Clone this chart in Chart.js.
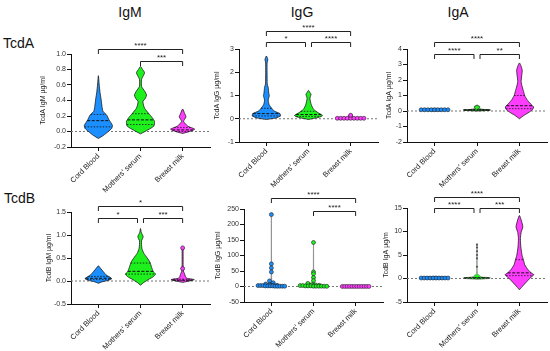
<!DOCTYPE html>
<html><head><meta charset="utf-8">
<script src="https://cdn.jsdelivr.net/npm/chart.js@4.4.0/dist/chart.umd.min.js"></script>
<style>
html,body{margin:0;padding:0;background:#fff}
body{width:550px;height:351px;position:relative;overflow:hidden;font-family:"Liberation Sans",Arial,sans-serif}
canvas{position:absolute}
.hd{position:absolute;font-size:14px;line-height:14px;color:#111;white-space:nowrap}
</style></head><body>
<div class="hd" style="left:130px;top:5px;transform:translateX(-50%)">IgM</div>
<div class="hd" style="left:302px;top:5px;transform:translateX(-50%)">IgG</div>
<div class="hd" style="left:458px;top:5px;transform:translateX(-50%)">IgA</div>
<div class="hd" style="left:3px;top:36px">TcdA</div>
<div class="hd" style="left:4px;top:191px">TcdB</div>
<script>
// ---------- DATA ----------
const categories = ["Cord Blood", "Mothers' serum", "Breast milk"];

// y tick labels per panel
const igmA_ticks = ["-0.2","0.0","0.2","0.4","0.6","0.8","1.0"];
const iggA_ticks = ["-1","0","1","2","3"];
const igaA_ticks = ["-2","-1","0","1","2","3","4"];
const igmB_ticks = ["-0.5","0.0","0.5","1.0","1.5"];
const iggB_ticks = ["-50","0","50","100","150","200","250"];
const igaB_ticks = ["-5","0","5","10","15"];

// violin density profiles: [value, relative half-width]
const igmA_cb = [[-0.09,0],[-0.05,0.36],[0,0.71],[0.04,0.95],[0.08,1],[0.15,0.76],[0.21,0.6],[0.26,0.33],[0.32,0.26],[0.42,0.19],[0.5,0.12],[0.6,0.06],[0.72,0]];
const igmA_ms = [[-0.03,0],[0.02,0.52],[0.07,0.95],[0.13,1],[0.18,0.83],[0.23,0.6],[0.3,0.29],[0.385,0.17],[0.43,0.35],[0.47,0.43],[0.52,0.3],[0.58,0.08],[0.67,0.07],[0.72,0.2],[0.76,0.29],[0.8,0.15],[0.84,0]];
const igmA_bm = [[-0.025,0],[0,0.5],[0.03,0.86],[0.07,0.36],[0.13,0.07],[0.16,0.15],[0.19,0.24],[0.23,0.15],[0.29,0]];

const iggA_cb = [[-0.03,0],[0.03,0.64],[0.12,1],[0.22,0.97],[0.33,0.56],[0.45,0.38],[0.6,0.2],[0.8,0.13],[0.92,0.18],[1.0,0.21],[1.1,0.17],[1.35,0.13],[1.5,0.06],[2.0,0.05],[2.4,0.05],[2.55,0.1],[2.7,0]];
const iggA_ms = [[-0.03,0],[0.06,0.73],[0.14,1],[0.26,0.68],[0.4,0.37],[0.6,0.2],[0.86,0.1],[0.95,0.13],[1.05,0.18],[1.13,0.1],[1.22,0]];
const iggA_bm = [[-0.03,0],[0,0.9],[0.02,1.0],[0.05,0.3],[0.1,0.08],[0.15,0.15],[0.19,0]];

const igaA_cb = [[0,0],[0.04,0.9],[0.08,1.0],[0.12,0.9],[0.17,0]];
const igaA_ms = [[0,0],[0.04,0.85],[0.07,0.95],[0.1,0.45],[0.15,0.12],[0.22,0.18],[0.28,0.2],[0.34,0.1],[0.38,0]];
const igaA_bm = [[-0.5,0],[-0.3,0.29],[-0.13,0.6],[0.09,0.93],[0.26,1],[0.47,0.78],[0.73,0.54],[1.0,0.37],[1.27,0.29],[1.55,0.2],[1.9,0.12],[2.34,0.17],[2.62,0.2],[2.88,0.12],[3.1,0]];

const igmB_cb = [[-0.05,0],[-0.02,0.24],[0.015,0.71],[0.05,0.95],[0.09,0.79],[0.12,0.6],[0.2,0.36],[0.28,0.14],[0.33,0]];
const igmB_ms = [[-0.09,0],[-0.03,0.24],[0.04,0.6],[0.09,0.9],[0.15,1.07],[0.21,0.9],[0.3,0.79],[0.41,0.67],[0.5,0.48],[0.6,0.24],[0.71,0.1],[0.87,0.07],[0.96,0.19],[1.06,0.05],[1.14,0]];
const igmB_bm = [[-0.03,0],[0,0.48],[0.03,0.83],[0.06,0.3],[0.1,0.2],[0.17,0.12],[0.22,0.05],[0.27,0.1],[0.32,0.04],[0.5,0.035],[0.68,0.04],[0.72,0.09],[0.75,0]];

const iggB_cb = [[-3,0],[0,0.55],[3,0.65],[6,0.35],[10,0.1],[16,0.03],[40,0.015],[80,0.01],[232,0]];
const iggB_ms = [[-3,0],[0,0.55],[3,0.65],[6,0.35],[10,0.1],[16,0.03],[40,0.015],[142,0]];
const iggB_bm = [[-2,0],[0,0.5],[0.5,0.55],[2,0]];

const igaB_cb = [[-0.2,0],[0,0.9],[0.1,1],[0.25,0.9],[0.45,0]];
const igaB_ms = [[-0.2,0],[0,0.85],[0.15,0.95],[0.3,0.4],[0.5,0.2],[0.7,0.18],[0.9,0.05],[1.5,0.01],[7.4,0]];
const igaB_bm = [[-2.4,0],[-1.4,0.29],[-0.4,0.6],[0.3,0.83],[0.8,1.02],[1.2,0.83],[1.9,0.6],[2.9,0.38],[3.9,0.29],[4.9,0.19],[6.7,0.1],[8.5,0.07],[9.8,0.12],[11,0.24],[12.5,0.12],[13.4,0]];

// quartiles [q1, median, q3] per category
const igmA_q = [[0.06,0.14,0.22],[0.09,0.15,0.23],[0.0,0.02,0.05]];
const iggA_q = [[0.12,0.22,0.45],[0.1,0.18,0.32],[0.0,0.01,0.03]];
const igaA_q = [[0.06,0.08,0.1],[0.05,0.07,0.1],[0.15,0.34,1.0]];
const igmB_q = [[0.03,0.06,0.1],[0.15,0.21,0.39],[0.01,0.02,0.04]];
const iggB_q = [[1,2,5],[1,2,4],[0.2,0.3,0.4]];
const igaB_q = [[0.05,0.1,0.15],[0.05,0.12,0.2],[0.6,1.2,4.0]];

// individual points shown
const iggA_bm_pts = [0.02,0.02,0.02,0.02,0.02,0.02,0.02,0.02,0.02,0.15];
const igaA_cb_pts = [0.08,0.08,0.08,0.08,0.08,0.08,0.08,0.08,0.08];
const igmB_bm_pts = [0.72,0.27];
const iggB_cb_pts = [232,73,60,47,18,12,8,5,4,4,3,3,3,2,2,2,2,1,1,1,1,1];
const iggB_ms_pts = [142,47,41,29,19,10,6,5,4,3,3,2,2,2,1,1,1,1,1,0.5];
const iggB_bm_pts = [0.3,0.3,0.3,0.3,0.3,0.3,0.3,0.3,0.3,0.3,0.3,0.3];
const igaB_cb_pts = [0.1,0.1,0.1,0.1,0.1,0.1,0.1,0.1,0.1,0.1];
const igaB_ms_pts = [7.2,6.6,5.8,5.0,4.3,2.5];

// significance brackets [from, to, level, label]
const igmA_br = [[0,2,1.065,"****"],[1,2,0.914,"***"]];
const iggA_br = [[0,2,3.78,"****"],[0,1,3.32,"*"],[1,2,3.32,"****"]];
const igaA_br = [[0,2,4.45,"****"],[0,1,3.68,"****"],[1,2,3.68,"**"]];
const igmB_br = [[0,2,1.62,"*"],[0,1,1.38,"*"],[1,2,1.38,"***"]];
const iggB_br = [[0,2,287,"****"],[1,2,245,"****"]];
const igaB_br = [[0,2,17.3,"****"],[0,1,15.0,"****"],[1,2,15.0,"***"]];

const panels = [
  {ticks: igmA_ticks, title: "TcdA IgM µg/ml", violins: [igmA_cb, igmA_ms, igmA_bm], quart: igmA_q, dots: [[],[],[]], brackets: igmA_br},
  {ticks: iggA_ticks, title: "TcdA IgG µg/ml", violins: [iggA_cb, iggA_ms, iggA_bm], quart: iggA_q, dots: [[],[],iggA_bm_pts], brackets: iggA_br},
  {ticks: igaA_ticks, title: "TcdA IgA µg/ml", violins: [igaA_cb, igaA_ms, igaA_bm], quart: igaA_q, dots: [igaA_cb_pts,[],[]], brackets: igaA_br},
  {ticks: igmB_ticks, title: "TcdB IgM µg/ml", violins: [igmB_cb, igmB_ms, igmB_bm], quart: igmB_q, dots: [[],[],igmB_bm_pts], brackets: igmB_br},
  {ticks: iggB_ticks, title: "TcdB IgG µg/ml", violins: [iggB_cb, iggB_ms, iggB_bm], quart: iggB_q, dots: [iggB_cb_pts,iggB_ms_pts,iggB_bm_pts], brackets: iggB_br},
  {ticks: igaB_ticks, title: "TcdB IgA µg/m", violins: [igaB_cb, igaB_ms, igaB_bm], quart: igaB_q, dots: [igaB_cb_pts,igaB_ms_pts,[]], brackets: igaB_br}
];

// ---------- LAYOUT / STYLE ----------
const layouts = [
  {ax:71,  top:54,  bottom:147, right:210, titleDist:28, outline:['#1a1a1a','#1a1a1a','#1a1a1a'], dotStyle:[null,null,null]},
  {ax:239, top:49,  bottom:142, right:378, titleDist:22, outline:['#1a1a1a','#1a1a1a','#1a1a1a'], dotStyle:[null,null,null]},
  {ax:407, top:49,  bottom:142, right:547, titleDist:18, outline:['#1a1a1a','#1a1a1a','#1a1a1a'], dotStyle:[null,null,null]},
  {ax:71,  top:212, bottom:304, right:210, titleDist:22, outline:['#1a1a1a','#1a1a1a','#1a1a1a'], dotStyle:[null,null,null]},
  {ax:244, top:209, bottom:302, right:383, titleDist:26, outline:['#8a8a8a','#8a8a8a','#8a8a8a'], dotStyle:[null,null,null]},
  {ax:407, top:208, bottom:302, right:547, titleDist:21, outline:['#1a1a1a','#8a8a8a','#1a1a1a'], dotStyle:[null,{r:1.1,c:'#555'},null]}
];
const COLORS = ['#1b8fff', '#1ef01e', '#ff3dff'];
const FONT = '"Liberation Sans", Arial, sans-serif';
const X_MIN = -0.65, X_MAX = 2.65;
const MAX_HALF = 0.333, DOT_STEP = 0.09;
const W = 40, PT = 32, PR = 4, XH = 56;

function violinPoly(d, c) {
  const right = d.map(([v, w]) => ({x: c + w * MAX_HALF, y: v}));
  const left = d.slice(0, -1).reverse().map(([v, w]) => ({x: c - w * MAX_HALF, y: v}));
  return right.concat(left);
}
function widthAt(d, v) {
  for (let k = 0; k < d.length - 1; k++) {
    const [v0, w0] = d[k], [v1, w1] = d[k + 1];
    if (v >= v0 && v <= v1) return w0 + (w1 - w0) * (v - v0) / ((v1 - v0) || 1);
  }
  return 0;
}
function swarm(vals, c, bin) {
  const groups = new Map();
  vals.forEach(v => { const k = Math.round(v / bin); if (!groups.has(k)) groups.set(k, []); groups.get(k).push(v); });
  const pts = [];
  groups.forEach(g => {
    const n = g.length;
    const sp = n > 1 ? Math.min(DOT_STEP, 2 * MAX_HALF * 0.95 / (n - 1)) : 0;
    g.forEach((v, k) => pts.push({x: c + (k - (n - 1) / 2) * sp, y: v}));
  });
  return pts;
}
function bracketPlugin(list) {
  return {
    id: 'brackets',
    afterDatasetsDraw(chart) {
      const {ctx} = chart, xs = chart.scales.x, ys = chart.scales.y;
      ctx.save();
      ctx.strokeStyle = '#222'; ctx.lineWidth = 1; ctx.fillStyle = '#222';
      ctx.font = '8px ' + FONT; ctx.textAlign = 'center'; ctx.textBaseline = 'alphabetic';
      list.forEach(br => {
        const [i, j, lvl, label] = br;
        const shared = k => list.some(o => o !== br && o[2] === lvl && (o[0] === k || o[1] === k));
        let x1 = xs.getPixelForValue(i), x2 = xs.getPixelForValue(j);
        if (shared(i)) x1 += 3;
        if (shared(j)) x2 -= 3;
        const yy = Math.round(ys.getPixelForValue(lvl)) + 0.5;
        ctx.beginPath();
        ctx.moveTo(x1, yy + 4.5); ctx.lineTo(x1, yy); ctx.lineTo(x2, yy); ctx.lineTo(x2, yy + 4.5);
        ctx.stroke();
        ctx.fillText(label, (x1 + x2) / 2, yy - 1.5);
      });
      ctx.restore();
    }
  };
}

panels.forEach((p, idx) => {
  const L = layouts[idx];
  const plotW = L.right - L.ax, plotH = L.bottom - L.top;
  const cv = document.createElement('canvas');
  cv.width = W + plotW + PR; cv.height = PT + plotH + XH;
  cv.style.left = (L.ax - W) + 'px'; cv.style.top = (L.top - PT) + 'px';
  cv.style.width = cv.width + 'px'; cv.style.height = cv.height + 'px';
  document.body.appendChild(cv);
  const tv = p.ticks.map(Number);
  const ymin = tv[0], ymax = tv[tv.length - 1];
  const ds = [];
  ds.push({data: [{x: X_MIN, y: 0}, {x: X_MAX, y: 0}], showLine: true, borderColor: '#777', borderWidth: 1, borderDash: [2, 2], pointRadius: 0, order: 10});
  p.violins.forEach((d, c) => {
    ds.push({data: violinPoly(d, c), showLine: true, fill: 'shape', backgroundColor: COLORS[c], borderColor: L.outline[c], borderWidth: 0.8, tension: 0.2, pointRadius: 0, order: 5});
    p.quart[c].forEach((q, qi) => {
      const w = widthAt(d, q) * MAX_HALF;
      ds.push({data: [{x: c - w, y: q}, {x: c + w, y: q}], showLine: true, borderColor: '#111', borderWidth: qi === 1 ? 1 : 0.8, borderDash: qi === 1 ? [3, 1.5] : [1.5, 1.5], pointRadius: 0, order: 3});
    });
    if (p.dots[c].length) {
      const st = L.dotStyle[c];
      ds.push({data: swarm(p.dots[c], c, (ymax - ymin) / 40), showLine: false,
        pointRadius: st ? st.r : 2, backgroundColor: st ? st.c : COLORS[c], borderColor: '#222', borderWidth: st ? 0 : 0.6, order: 1, clip: false});
    }
  });
  const axisGrid = {display: true, drawOnChartArea: false, drawTicks: true, tickLength: 4, color: '#111', lineWidth: 1};
  const axisBorder = {display: true, color: '#111', width: 1};
  new Chart(cv, {
    type: 'scatter',
    data: {datasets: ds},
    options: {
      responsive: false, animation: false, devicePixelRatio: 1, events: [],
      layout: {padding: {top: PT, right: PR, left: 0, bottom: 0}, autoPadding: false},
      plugins: {legend: {display: false}, tooltip: {enabled: false}},
      scales: {
        x: {
          type: 'linear', min: X_MIN, max: X_MAX,
          afterBuildTicks: s => { s.ticks = categories.map((_, i) => ({value: i})); },
          afterFit: s => { s.height = XH; },
          ticks: {callback: (v, i) => categories[i], minRotation: 45, maxRotation: 45, autoSkip: false, padding: 1, color: '#222', font: {size: 7.5, family: FONT}},
          grid: axisGrid, border: axisBorder
        },
        y: {
          type: 'linear', min: ymin, max: ymax,
          afterBuildTicks: s => { s.ticks = tv.map(v => ({value: v})); },
          afterFit: s => { s.width = W; },
          ticks: {callback: (v, i) => p.ticks[i], autoSkip: false, padding: 1, color: '#333', font: {size: 7, family: FONT}},
          grid: axisGrid, border: axisBorder,
          title: {display: true, text: p.title, color: '#222', font: {size: 7, family: FONT}, padding: {top: W - L.titleDist - 4.2, bottom: 0}}
        }
      }
    },
    plugins: [bracketPlugin(p.brackets)]
  });
});
</script>
</body></html>
